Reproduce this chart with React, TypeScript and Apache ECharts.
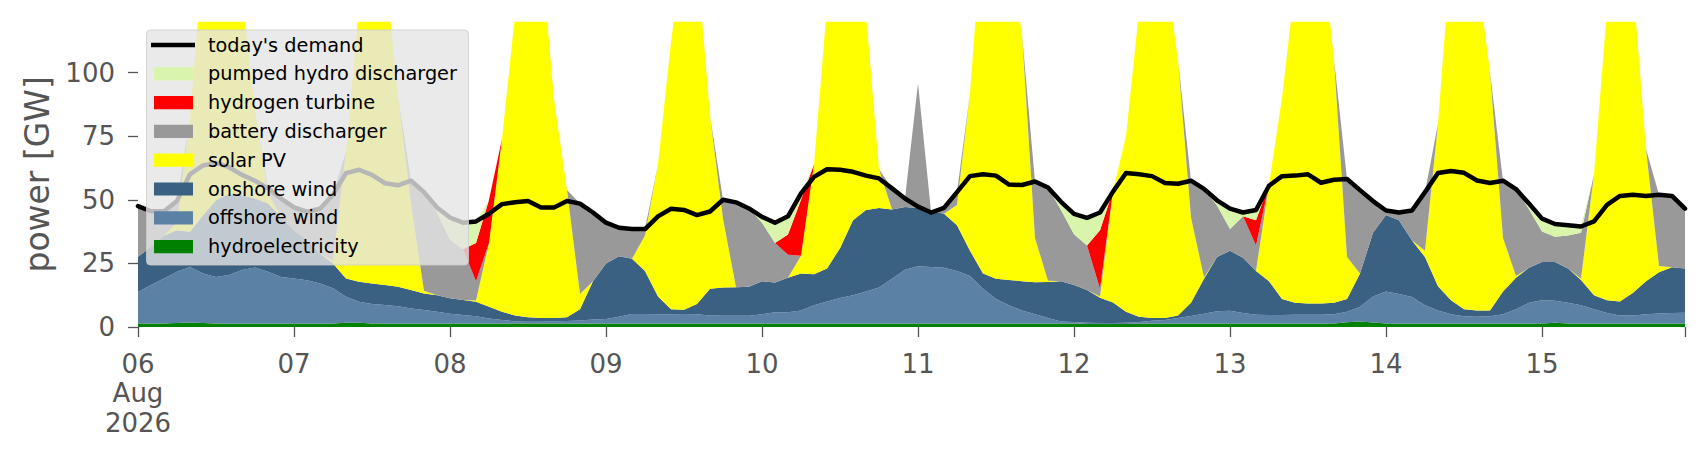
import React, { useEffect, useRef } from "react";
import * as echarts from "echarts";

// x categories: hours since 06 Aug 2026 00:00 (2-hourly samples up to 15 Aug 22:00)
const hours: number[] = [
  0, 2, 4, 6, 8, 10, 12, 14, 16, 18, 20, 22,
  24, 26, 28, 30, 32, 34, 36, 38, 40, 42, 44, 46,
  48, 50, 52, 54, 56, 58, 60, 62, 64, 66, 68, 70,
  72, 74, 76, 78, 80, 82, 84, 86, 88, 90, 92, 94,
  96, 98, 100, 102, 104, 106, 108, 110, 112, 114, 116, 118,
  120, 122, 124, 126, 128, 130, 132, 134, 136, 138, 140, 142,
  144, 146, 148, 150, 152, 154, 156, 158, 160, 162, 164, 166,
  168, 170, 172, 174, 176, 178, 180, 182, 184, 186, 188, 190,
  192, 194, 196, 198, 200, 202, 204, 206, 208, 210, 212, 214,
  216, 218, 220, 222, 224, 226, 228, 230, 232, 234, 236, 238,
];

const dayTickHours = [0, 24, 48, 72, 96, 120, 144, 168, 192, 216];
const dayLabels = ["06\nAug\n2026", "07", "08", "09", "10", "11", "12", "13", "14", "15"];
const yTicks = [0, 25, 50, 75, 100];

const demand = [
  47.5, 45.5, 45.5, 49.5, 60, 63.5, 64.5, 62.8, 59.8, 57.5, 54.5, 50.5,
  47, 45.3, 46.5, 52, 60.5, 61.8, 59.8, 56.5, 55.7, 57.5, 53, 47,
  43, 41, 41.5, 44.5, 48.3, 49, 49.5, 47, 47, 49.5, 48.5, 45,
  41, 39, 38.5, 38.5, 43.5, 46.5, 46, 44, 45.4, 50, 49, 46.6,
  43.3, 41, 43.5, 52.5, 59, 62, 61.8, 61, 59.5, 58.4, 54.5, 50.5,
  47.3, 45, 46.8, 53, 59.3, 60, 59.5, 56, 55.8, 57.2, 54.8, 49.2,
  44.5, 42.9, 45, 53.2, 60.5, 60, 59.3, 56.6, 56.3, 57.5, 54.3, 49.8,
  46.5, 45, 46, 55.5, 59.3, 59.5, 60, 56.7, 57.9, 58.2, 53.8, 49.5,
  45.8, 45, 45.8, 53, 60.5, 61.3, 60.6, 57.6, 56.6, 57.5, 54.2, 48.5,
  42.6, 40.5, 40, 39.5, 41.5, 48, 51.5, 52, 51.5, 52, 51.5, 46.5,
];

const hydro = [
  1.4, 1.4, 1.4, 1.6, 1.8, 1.6, 1.4, 1.4, 1.4, 1.4, 1.4, 1.4,
  1.4, 1.4, 1.4, 1.4, 1.7, 1.7, 1.4, 1.4, 1.4, 1.4, 1.4, 1.4,
  1.4, 1.4, 1.4, 1.4, 1.4, 1.4, 1.4, 1.4, 1.4, 1.4, 1.4, 1.4,
  1.4, 1.4, 1.4, 1.4, 1.4, 1.4, 1.4, 1.4, 1.4, 1.4, 1.4, 1.4,
  1.4, 1.4, 1.4, 1.4, 1.4, 1.4, 1.4, 1.4, 1.4, 1.4, 1.4, 1.4,
  1.4, 1.4, 1.4, 1.4, 1.4, 1.4, 1.4, 1.4, 1.4, 1.4, 1.4, 1.4,
  1.4, 1.2, 1.2, 1.2, 1.2, 1.3, 1.4, 1.4, 1.4, 1.4, 1.4, 1.4,
  1.4, 1.4, 1.4, 1.4, 1.4, 1.4, 1.4, 1.4, 1.4, 1.9, 2.2, 1.8,
  1.4, 1.4, 1.4, 1.4, 1.4, 1.4, 1.4, 1.4, 1.4, 1.4, 1.4, 1.4,
  1.4, 1.7, 1.4, 1.4, 1.4, 1.4, 1.4, 1.4, 1.4, 1.4, 1.4, 1.4,
];

const offshore = [
  12.4, 15.1, 17.7, 20.1, 21.8, 19.4, 18.3, 19.0, 21.0, 22.0, 20.3, 18.3,
  17.7, 17.0, 15.7, 13.8, 10.2, 8.2, 7.6, 7.2, 6.8, 5.9, 5.3, 4.6,
  3.8, 3.3, 2.8, 1.9, 1.4, 0.8, 0.7, 0.7, 0.9, 1.0, 1.2, 1.5,
  1.7, 2.6, 3.7, 3.7, 3.6, 3.6, 3.7, 3.6, 3.1, 3.0, 3.0, 3.0,
  3.6, 4.4, 4.4, 5.1, 7.1, 8.6, 10.0, 11.1, 12.6, 14.1, 17.6, 21.1,
  22.5, 22.2, 21.9, 20.6, 18.6, 13.6, 9.6, 7.1, 5.1, 3.6, 2.1, 0.8,
  0.6, 0.5, 0.4, 0.4, 0.5, 0.7, 1.1, 1.4, 2.1, 2.9, 3.8, 4.8,
  5.0, 4.1, 3.4, 3.3, 3.3, 3.4, 3.4, 3.4, 3.6, 4.1, 5.8, 10.2,
  12.6, 11.6, 10.4, 7.1, 5.1, 3.6, 2.8, 2.6, 2.8, 3.6, 5.6, 8.1,
  9.1, 8.6, 8.1, 7.1, 5.6, 4.1, 3.1, 3.1, 3.6, 3.9, 4.1, 4.2,
];

const onshore = [
  13.8, 15.0, 16.9, 16.3, 13.8, 22.9, 30.1, 32.0, 29.4, 27.1, 26.8, 23.6,
  18.9, 15.7, 11.8, 9.8, 7.2, 7.9, 8.1, 7.9, 7.6, 7.2, 6.5, 6.5,
  6.1, 5.9, 5.7, 4.7, 3.2, 2.3, 1.7, 1.4, 1.2, 1.4, 4.4, 15.1,
  21.9, 23.8, 21.7, 16.9, 7.0, 2.0, 1.7, 4.0, 10.5, 11.1, 11.2, 11.4,
  13.0, 11.7, 13.6, 14.5, 12.2, 13.0, 19.6, 29.5, 32.0, 31.3, 27.2, 24.7,
  22.9, 21.9, 21.2, 18.0, 10.0, 6.0, 8.0, 10.0, 11.5, 12.6, 14.2, 15.8,
  14.5, 12.8, 9.9, 8.0, 4.3, 2.0, 1.0, 0.7, 1.0, 5.2, 13.8, 21.3,
  23.6, 21.7, 17.2, 13.3, 6.3, 4.7, 4.4, 4.4, 4.5, 5.0, 13.0, 25.0,
  30.0, 29.0, 22.2, 19.0, 9.5, 5.5, 2.8, 2.5, 2.3, 9.0, 12.4, 13.8,
  15.0, 15.2, 13.5, 10.0, 5.5, 5.0, 5.5, 9.0, 13.0, 16.2, 18.0, 17.4,
];

const solar = [
  0, 0, 0, 3, 45, 101, 105, 103, 78, 34.5, 4, 0,
  0, 0, 0, 1, 50, 108, 125, 125, 75, 34, 1, 0,
  0, 0, 0.5, 25, 68, 118, 140, 145, 86, 50, 6, 0,
  0, 0, 0, 14, 52, 105, 145, 136, 68, 27, 0, 0,
  0, 0, 0, 7, 43.3, 103, 119, 103, 77, 15.2, 0, 0,
  0, 0, 0, 8, 62, 139, 135, 130, 97, 17.4, 0.5, 0,
  0, 0, 0.5, 44, 69, 120, 135, 139, 100.5, 33.5, 0.5, 0,
  0, 0, 0, 38, 79, 125, 135, 145, 95.5, 16.5, 0, 0,
  0, 0, 0, 2.5, 64, 136.5, 143, 133.5, 93.5, 21, 0.6, 0,
  0, 0, 0, 0.5, 47.5, 114.5, 140, 121.5, 52, 2.5, 0, 0,
];

const battery = [
  19.9, 14, 9.5, 8.5, 0, 0, 0, 0, 0, 0, 2, 7.2,
  9, 11.2, 17.6, 26, 0, 0, 0, 0, 0, 9, 38.8, 32.5,
  23, 20, 7.6, 0, 0, 0, 0, 0, 0, 0, 35.5, 27,
  16, 11.2, 11.7, 2.5, 0, 0, 0, 0, 0, 7.5, 33.4, 30.8,
  23, 15.5, 9, 0, 0, 0, 0, 0, 0, 0, 8.3, 3.3,
  49, 0, 2.3, 5, 0, 0, 0, 0, 0, 22.2, 36.6, 28,
  20, 17.5, 3, 0, 0, 0, 0, 0, 0, 14.5, 34.8, 20.3,
  8.5, 16.3, 10, 0, 0, 0, 0, 0, 0, 30.7, 32.8, 12.5,
  1.8, 3, 11.8, 23, 0, 0, 0, 0, 0, 22.5, 34.2, 23,
  12, 10, 13, 18, 0, 0, 0, 0, 0, 28, 28, 23.5,
];

const hydrogen = [
  0, 0, 0, 0, 0, 0, 0, 0, 0, 0, 0, 0,
  0, 0, 0, 0, 0, 0, 0, 0, 0, 0, 0, 0,
  0, 0, 15, 17, 0, 0, 0, 0, 0, 0, 0, 0,
  0, 0, 0, 0, 0, 0, 0, 0, 0, 0, 0, 0,
  0, 0, 8, 22, 0, 0, 0, 0, 0, 0, 0, 0,
  0, 0, 0, 0, 0, 0, 0, 0, 0, 0, 0, 0,
  0, 0, 23, 0, 0, 0, 0, 0, 0, 0, 0, 0,
  0, 0, 10, 0, 0, 0, 0, 0, 0, 0, 0, 0,
  0, 0, 0, 0, 0, 0, 0, 0, 0, 0, 0, 0,
  0, 0, 0, 0, 0, 0, 0, 0, 0, 0, 0, 0,
];

const pumped = [
  0, 0, 0, 0, 0, 0, 0, 0, 0, 0, 0, 0,
  0, 0, 0, 0, 0, 0, 0, 0, 0, 0, 0, 2,
  8.7, 10.4, 8.5, 0, 0, 0, 0, 0, 0, 0, 0, 0,
  0, 0, 0, 0, 0, 0, 0, 0, 0, 0, 0, 0,
  2.3, 8, 7.1, 2.5, 0, 0, 0, 0, 0, 0, 0, 0,
  0, 0, 0, 0, 0, 0, 0, 0, 0, 0, 0, 3.2,
  8, 10.9, 7, 0, 0, 0, 0, 0, 0, 0, 0, 2,
  8, 1.5, 4, 0, 0, 0, 0, 0, 0, 0, 0, 0,
  0, 0, 0, 0, 0, 0, 0, 0, 0, 0, 0, 2.2,
  5.1, 5, 4, 2.5, 0, 0, 0, 0, 0, 0, 0, 0,
];

const FONT = "DejaVu Sans";

const stackDefs = [
  { name: "hydroelectricity", color: "#008000", data: hydro },
  { name: "offshore wind", color: "#5b82a5", data: offshore },
  { name: "onshore wind", color: "#3b6182", data: onshore },
  { name: "solar PV", color: "#ffff00", data: solar },
  { name: "battery discharger", color: "#999999", data: battery },
  { name: "hydrogen turbine", color: "#ff0000", data: hydrogen },
  { name: "pumped hydro discharger", color: "#d9f5ab", data: pumped },
];

const legendOrder = [
  { name: "today's demand", color: "#000000", line: true },
  { name: "pumped hydro discharger", color: "#d9f5ab", line: false },
  { name: "hydrogen turbine", color: "#ff0000", line: false },
  { name: "battery discharger", color: "#999999", line: false },
  { name: "solar PV", color: "#ffff00", line: false },
  { name: "onshore wind", color: "#3b6182", line: false },
  { name: "offshore wind", color: "#5b82a5", line: false },
  { name: "hydroelectricity", color: "#008000", line: false },
];

export default function App() {
  const ref = useRef<HTMLDivElement>(null);

  useEffect(() => {
    if (!ref.current) return;
    const chart = echarts.init(ref.current, undefined, { renderer: "svg" });
    const lastIdx = hours.length - 1;
    const isDayTick = (i: number) => dayTickHours.indexOf(hours[i]) >= 0;

    const legendEls: any[] = [
      {
        type: "rect",
        z: 100,
        shape: { x: 146.5, y: 30, width: 322, height: 235, r: 4 },
        style: { fill: "rgba(229,229,229,0.8)", stroke: "rgba(204,204,204,0.8)", lineWidth: 1 },
      },
    ];
    legendOrder.forEach((item, k) => {
      const cy = 45 + 28.8 * k;
      if (item.line) {
        legendEls.push({
          type: "line",
          z: 101,
          shape: { x1: 151, y1: cy, x2: 195, y2: cy },
          style: { stroke: item.color, lineWidth: 4.5 },
        });
      } else {
        legendEls.push({
          type: "rect",
          z: 101,
          shape: { x: 154, y: cy - 6.6, width: 39, height: 13.2 },
          style: { fill: item.color },
        });
      }
      legendEls.push({
        type: "text",
        z: 101,
        x: 208,
        y: cy,
        style: {
          text: item.name,
          fill: "#000",
          fontSize: 19.3,
          fontFamily: FONT,
          verticalAlign: "middle",
          align: "left",
        },
      });
    });

    const option: any = {
      animation: false,
      backgroundColor: "#ffffff",
      grid: { left: 138, right: 21, top: 21.7, bottom: 133, containLabel: false },
      xAxis: {
        type: "category",
        data: hours.map(String),
        boundaryGap: false,
        axisLine: { show: false },
        splitLine: { show: false },
        axisTick: {
          show: true,
          length: 10,
          interval: (i: number) => isDayTick(i) || i === lastIdx,
          lineStyle: { color: "#555555", width: 1.3 },
        },
        axisLabel: {
          interval: (i: number) => isDayTick(i),
          formatter: (_v: string, i: number) => {
            const k = dayTickHours.indexOf(hours[i]);
            return k >= 0 ? dayLabels[k] : "";
          },
          fontSize: 26,
          lineHeight: 29.5,
          color: "#555555",
          fontFamily: FONT,
          margin: 22,
        },
      },
      yAxis: {
        type: "value",
        min: 0,
        max: 120,
        interval: 25,
        name: "power [GW]",
        nameLocation: "middle",
        nameGap: 83,
        nameTextStyle: { fontSize: 33, color: "#555555", fontFamily: FONT },
        axisLine: { show: false },
        splitLine: { show: false },
        axisTick: {
          show: true,
          length: 10,
          lineStyle: { color: "#555555", width: 1.3 },
          customValues: yTicks,
        },
        axisLabel: {
          customValues: yTicks,
          formatter: (v: number) => (v > 100 ? "" : String(v)),
          fontSize: 26,
          color: "#555555",
          fontFamily: FONT,
          margin: 23,
        },
      },
      series: [
        ...stackDefs.map((d) => ({
          type: "line",
          name: d.name,
          stack: "generation",
          data: d.data,
          showSymbol: false,
          symbol: "none",
          silent: true,
          z: 2,
          lineStyle: { width: 0, opacity: 0 },
          itemStyle: { color: d.color },
          areaStyle: { color: d.color, opacity: 1 },
        })),
        {
          type: "line",
          name: "today's demand",
          data: demand,
          showSymbol: false,
          symbol: "none",
          silent: true,
          z: 5,
          lineStyle: { color: "#000000", width: 4.5, join: "round", cap: "round" },
          itemStyle: { color: "#000000" },
        },
      ],
      graphic: { elements: legendEls },
    };

    chart.setOption(option);
    return () => chart.dispose();
  }, []);

  return (
    <div
      ref={ref}
      style={{ position: "fixed", left: 0, top: 0, width: 1706, height: 460, background: "#ffffff" }}
    />
  );
}
